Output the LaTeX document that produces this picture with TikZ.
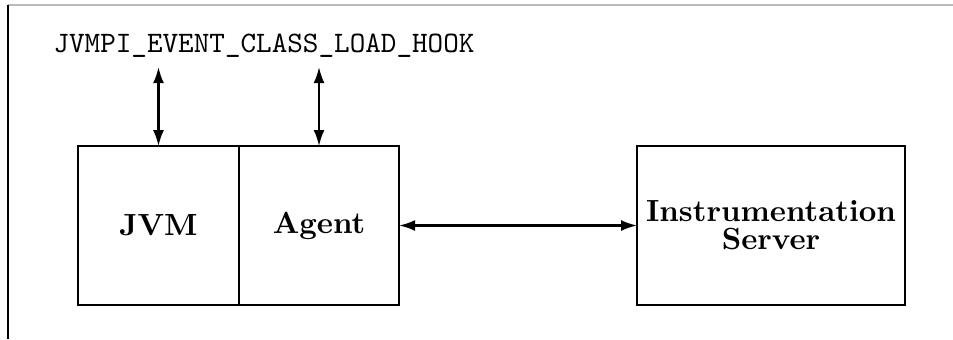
\documentclass[tikz,border=0pt]{standalone}
\usepackage{tikz}
\usetikzlibrary{arrows.meta, % for the link tips
                positioning}

\begin{document}
\begin{tikzpicture}[x=0.3367pt, y=0.3367pt,
                    Block/.style={draw, line width=0.5pt, rectangle, inner sep=0pt, outer sep=0pt,
                                  minimum height=53.5pt, font=\fontsize{10.3}{9.4}\selectfont\bfseries, align=center},
                    Link/.style={{Latex[length=5.4pt,width=3.7pt]}-{Latex[length=5.4pt,width=3.7pt]}, line width=0.7pt}
                    ]
    \useasboundingbox (0,0) rectangle (953,339);

    % FRAME %
    \draw[gray!55, line width=0.4pt] (8,334) -- (953,334);
    \draw[line width=0.6pt] (8,334) -- (8,0);

    % BOXES %
    \node[Block, minimum width=54.2pt] at (158.5,113.5) (JVM){JVM};
    \node[Block, minimum width=53.9pt, right=0pt of JVM] (Agent){Agent};
    \node[Block, minimum width=90.2pt] at (771,113.5) (Server){Instrumentation\\Server};

    % HOOK %
    \node[font=\ttfamily] at (264,293) (Hook){JVMPI\_EVENT\_CLASS\_LOAD\_HOOK};
    \foreach \b in {JVM,Agent}{
    \coordinate (\b Hook) at ([yshift=26.6pt]\b.north);
    \draw[Link] (\b Hook) -- (\b.north);
    }

    % SERVER LINK %
    \draw[Link] (Agent.east) -- (Server.west);

\end{tikzpicture}
\end{document}
